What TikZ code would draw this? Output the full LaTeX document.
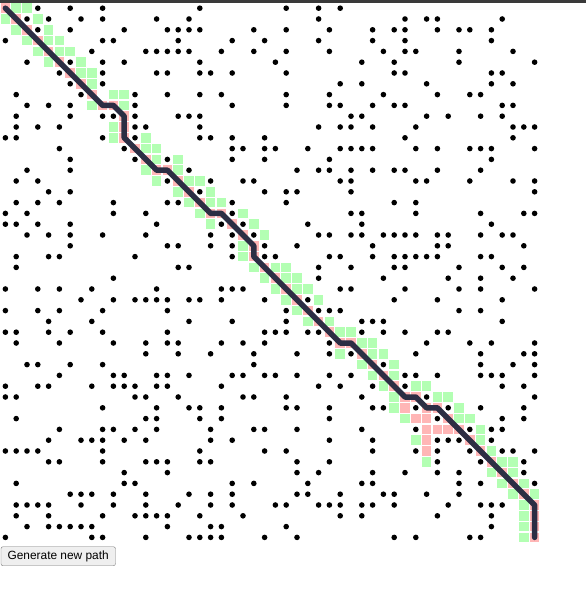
\documentclass[tikz,border=0pt]{standalone}
\usepackage{fontspec}
\setmainfont{Liberation Sans}
\definecolor{opengreen}{RGB}{179,255,179}
\definecolor{closedpink}{RGB}{255,182,182}
\definecolor{routeblue}{RGB}{44,46,68}
\definecolor{barcolor}{RGB}{58,58,58}
\definecolor{buttonfill}{RGB}{239,239,239}
\definecolor{buttonedge}{RGB}{118,118,118}

\begin{document}
\begin{tikzpicture}[x=1pt, y=-1pt,
    opencell/.style={fill=opengreen},
    closedcell/.style={fill=closedpink},
    wall/.style={fill=black},
    route/.style={draw=routeblue, line width=5.5pt, line cap=round, line join=round},
    button/.style={draw=buttonedge, fill=buttonfill, rounded corners=2pt, minimum width=114.5pt,
        minimum height=19pt, inner sep=0pt, font=\fontsize{11.9}{14}\selectfont}]
    \useasboundingbox (0,0) rectangle (586,591);
    \fill[barcolor] (0,0) rectangle (586,3);

    \begin{scope}[shift={(5.4,8.2)}, x=10.8pt, y=-10.8pt]
        % open set
        \foreach \c/\r in {1/0,2/0,0/1,3/1,1/2,4/2,2/3,4/3,5/3,3/4,5/4,6/4,4/5,7/5,7/6,8/6,8/7,
            10/8,11/8,8/9,11/9,10/11,10/12,13/12,13/13,14/13,14/14,16/14,13/15,16/15,
            14/16,17/16,18/16,16/17,19/17,17/18,19/18,20/18,18/19,22/19,19/20,23/20,24/21,
            22/22,22/23,23/24,25/24,26/24,24/25,26/25,27/25,25/26,27/26,28/26,26/27,29/27,
            27/28,28/29,30/29,31/30,32/30,33/31,34/31,31/32,34/32,35/32,33/33,36/33,34/34,
            36/34,35/35,38/35,39/35,36/36,40/36,41/36,36/37,42/37,37/38,42/38,43/38,44/39,
            38/40,44/40,45/41,39/42,46/42,47/42,45/43,47/43,46/44,48/44,47/45,49/45,48/46,
            48/47,48/48,48/49}
            \fill[opencell] (\c-0.45,\r-0.45) rectangle (\c+0.45,\r+0.45);

        % closed set
        \foreach \c/\r in {0/0,1/1,2/2,3/3,4/4,5/5,6/6,7/7,8/8,9/9,10/9,11/10,11/11,11/12,
            12/13,13/14,14/15,15/15,16/16,17/17,18/18,19/19,20/19,21/20,22/21,23/22,23/23,
            24/24,25/25,26/26,27/27,28/28,29/29,30/30,31/31,32/31,33/32,34/33,35/34,36/35,
            37/36,38/36,39/37,40/37,41/38,42/39,43/40,44/41,45/42,46/43,47/44,48/45,49/46,
            49/47,49/48,49/49,37/37,38/38,39/38,39/39,40/39,41/39,39/40,39/41}
            \fill[closedcell] (\c-0.45,\r-0.45) rectangle (\c+0.45,\r+0.45);

        % walls, row by row
        \foreach \r/\cols in {
            0/{3,6,9,18,26,29,31},
            1/{2,4,7,9,14,17,29,37,39,40,46},
            2/{3,6,11,15,16,17,18,23,26,30,34,36,37,40,42,43,45},
            3/{0,9,10,16,21,24,29,34,37,45},
            4/{8,13,14,15,16,17,20,23,26,30,35,37,38,42,47},
            5/{2,6,9,11,18,25,33,36,42,49},
            6/{5,9,14,15,18,19,21,26,36,37,45,46},
            7/{6,9,31,33,39,45,47},
            8/{1,7,12,15,18,20,26,30,35,40,43,44},
            9/{2,4,6,12,21,26,30,31,34,36,37,46,47},
            10/{1,6,9,10,12,16,17,18,32,33,39,41,44,46},
            11/{1,3,5,12,13,18,29,31,32,34,38,47,48,49},
            12/{0,1,9,12,18,19,21,24,37,47},
            13/{5,11,21,22,24,25,28,31,32,33,34,38,40,43,44,45,49},
            14/{6,12,15,21,24,30,45},
            15/{2,6,17,27,29,30,32,34,36,37,40,44},
            16/{1,3,15,19,22,23,31,32,38,39,43,47,49},
            17/{4,6,18,24,26,27,32,49},
            18/{1,3,5,10,15,16,21,26,36,38},
            19/{0,2,10,13,21,32,33,38,44,48,49},
            20/{0,1,3,6,14,20,22,28,33,45},
            21/{2,4,6,9,13,19,21,23,29,30,32,33,35,36,37,38,40,41,44,46,47},
            22/{6,15,16,19,21,24,27,34,40,41,48},
            23/{1,4,5,12,21,24,25,30,31,34,36,37,38,39,40,44,45},
            24/{1,16,17,29,32,36,37,42,46,48},
            25/{10,29,35,41,44,47},
            26/{0,3,5,8,14,20,21,22,31,32,37,42,44,49},
            27/{7,10,12,13,14,15,17,18,20,24,28,36,40,46},
            28/{0,3,5,9,15,26,29,30,31,42,44},
            29/{4,8,17,21,26,33,34,35,46},
            30/{0,1,4,6,9,15,24,25,26,28,29,33,35,37,40,41},
            31/{1,5,10,13,15,16,20,22,24,30,39,43,45,49},
            32/{13,16,19,23,27,30,32,38,44,48,49},
            33/{2,3,6,9,23,35,44,47,49},
            34/{5,10,11,14,15,17,21,22,24,25,27,30,32,37,38,40,44,45,46,49},
            35/{0,3,4,8,10,11,12,14,15,20,29,31,34,37,46,48},
            36/{0,1,12,13,16,22,23,26,33,39,49},
            37/{9,14,17,18,20,26,27,30,34,35,38,41,44,48},
            38/{1,13,14,18,20,30,40,46,48},
            39/{5,9,10,12,14,19,23,24,27,33,38,43,45,46},
            40/{4,7,8,9,11,13,19,21,30,34,40,41,42,45},
            41/{0,1,2,3,9,18,24,26,34,38,40,43,46,47,49},
            42/{4,5,9,13,14,15,18,19,27,30,40,44,48},
            43/{11,15,27,29,34,37,40,42,48},
            44/{1,11,12,21,23,28,33,34,42,44,49},
            45/{6,7,8,10,13,17,19,21,27,28,31,35,36,39,42},
            46/{1,2,3,4,7,10,13,16,19,21,25,26,29,30,31,33,34,36,41,44,45,46},
            47/{1,4,9,12,13,14,15,18,22,31,33,40,45},
            48/{2,4,5,6,7,8,15,19,20,26,45},
            49/{0,8,9,13,17,18,19,20,24,27,36,38,43,44}}
            \foreach \c in \cols
                \fill[wall] (\c,\r) circle (2.8pt);

        % route from start to goal
        \coordinate (start) at (0,0);
        \coordinate (goal) at (49,49);
        \draw[route] (start) -- (9,9) -- (10,9) -- (11,10) -- (11,12) -- (14,15) -- (15,15)
            -- (19,19) -- (20,19) -- (23,22) -- (23,23) -- (31,31) -- (32,31) -- (37,36)
            -- (38,36) -- (39,37) -- (40,37) -- (49,46) -- (goal);
    \end{scope}

    \node[button] (newpath) at (58.2,556.2) {Generate new path};
\end{tikzpicture}
\end{document}
